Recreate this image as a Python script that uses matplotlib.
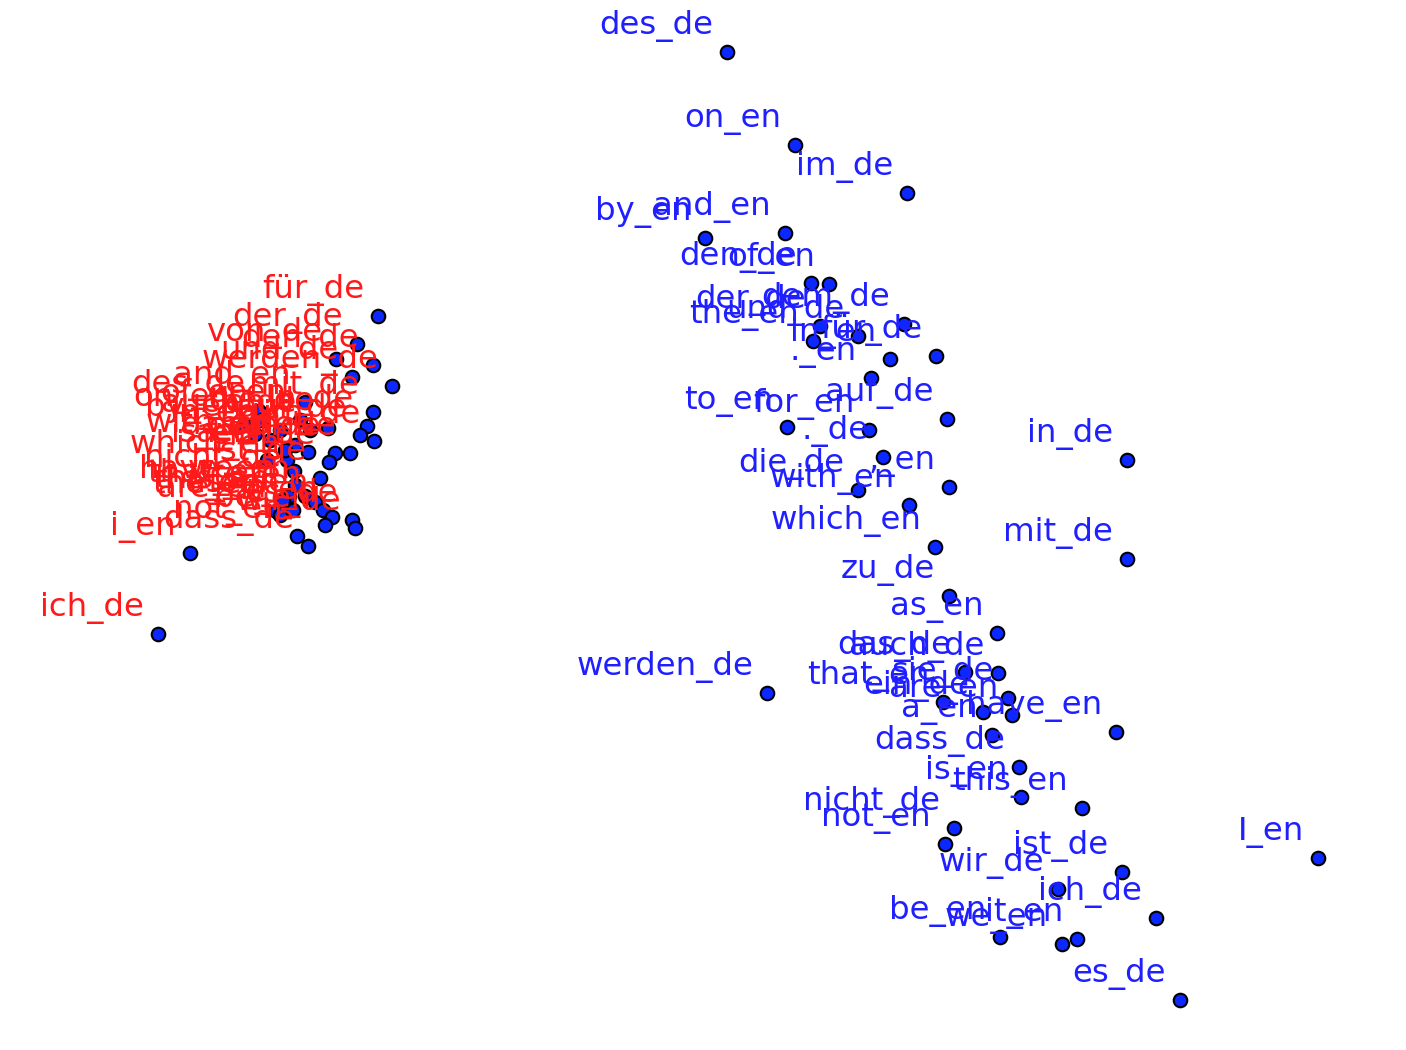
import numpy as np
import matplotlib.pyplot as plt

# right group (blue labels)
words_b = ['des_de', 'on_en', 'im_de', 'by_en', 'and_en', 'den_de', 'of_en', 'der_de',
           'the_en', 'und_de', 'dem_de', 'für_de', 'in_en', '._en', 'auf_de', 'to_en',
           'for_en', '._de', 'die_de', ',_en', 'with_en', 'which_en', 'zu_de', 'as_en',
           'das_de', 'auch_de', 'that_en', 'ein_de', 'are_en', 'sie_de', 'a_en', 'have_en',
           'dass_de', 'is_en', 'this_en', 'nicht_de', 'not_en', 'ist_de', 'wir_de', 'ich_de',
           'be_en', 'we_en', 'it_en', 'es_de', 'in_de', 'mit_de', 'I_en', 'werden_de']
x_b = [727, 795, 907, 705, 785, 811, 829, 820, 813, 858, 904, 936, 890, 871, 947, 787,
       869, 883, 858, 949, 909, 935, 949, 997, 965, 998, 943, 983, 1012, 1008, 992, 1116,
       1019, 1021, 1082, 954, 945, 1122, 1058, 1156, 1000, 1062, 1077, 1180, 1127, 1127, 1318, 767]
y_b = [52, 145, 193, 238, 233, 283, 284, 326, 341, 336, 324, 356, 359, 378, 419, 427,
       430, 457, 490, 487, 505, 547, 596, 633, 672, 673, 702, 712, 715, 698, 735, 732,
       767, 797, 808, 828, 844, 872, 889, 918, 937, 944, 939, 1000, 460, 559, 858, 693]

# left group (red labels)
words_r = ['für_de', 'der_de', 'von_de', 'den_de', 'und_de', 'werden_de', 'and_en', 'mit_de',
           'i_en', 'ich_de', 'dass_de', 'not_en', 'which_en', 'have_en', 'the_en', 'this_en',
           'we_en', 'des_de', 'on_en', 'of_en', 'by_en', 'in_de', 'im_de', 'auf_de',
           'die_de', 'das_de', 'zu_de', 'dem_de', 'ein_de', 'ist_de', 'is_en', 'a_en',
           'to_en', 'for_en', 'it_en', 'be_en', 'es_de', 'wir_de', 'that_en', 'as_en',
           'are_en', 'in_en', '._en', '._de', ',_en', 'with_en', 'auch_de', 'nicht_de']
x_r = [378, 357, 336, 373, 352, 392, 305, 373, 190, 158, 308, 297, 294, 289, 276, 284,
       305, 259, 244, 262, 255, 367, 374, 360, 328, 308, 335, 350, 329, 320, 267, 287,
       315, 323, 332, 325, 352, 355, 283, 293, 280, 270, 280, 295, 300, 285, 310, 295]
y_r = [316, 344, 359, 365, 377, 386, 402, 412, 553, 634, 546, 536, 471, 496, 511, 506,
       496, 411, 424, 420, 434, 426, 441, 435, 428, 452, 453, 453, 462, 478, 460, 460,
       502, 510, 517, 525, 520, 528, 500, 510, 515, 440, 430, 445, 420, 450, 430, 485]

fig = plt.figure(figsize=(14.06, 10.5), dpi=100)
ax = fig.add_axes([0, 0, 1, 1])

ax.scatter(x_b + x_r, y_b + y_r, s=95, c='#0a28ff', edgecolors='black', linewidths=1.5, zorder=3)

for w, x, y in zip(words_b, x_b, y_b):
    ax.annotate(w, (x, y), xytext=(-10, 7), textcoords='offset points',
                ha='right', va='bottom', fontsize=23.3, color='#1f1fff')
for w, x, y in zip(words_r, x_r, y_r):
    ax.annotate(w, (x, y), xytext=(-10, 7), textcoords='offset points',
                ha='right', va='bottom', fontsize=23.3, color='#ff1a1a')

ax.set_xlim(0, 1406)
ax.set_ylim(1050, 0)
ax.axis('off')

fig.savefig('out.png', dpi=100)
